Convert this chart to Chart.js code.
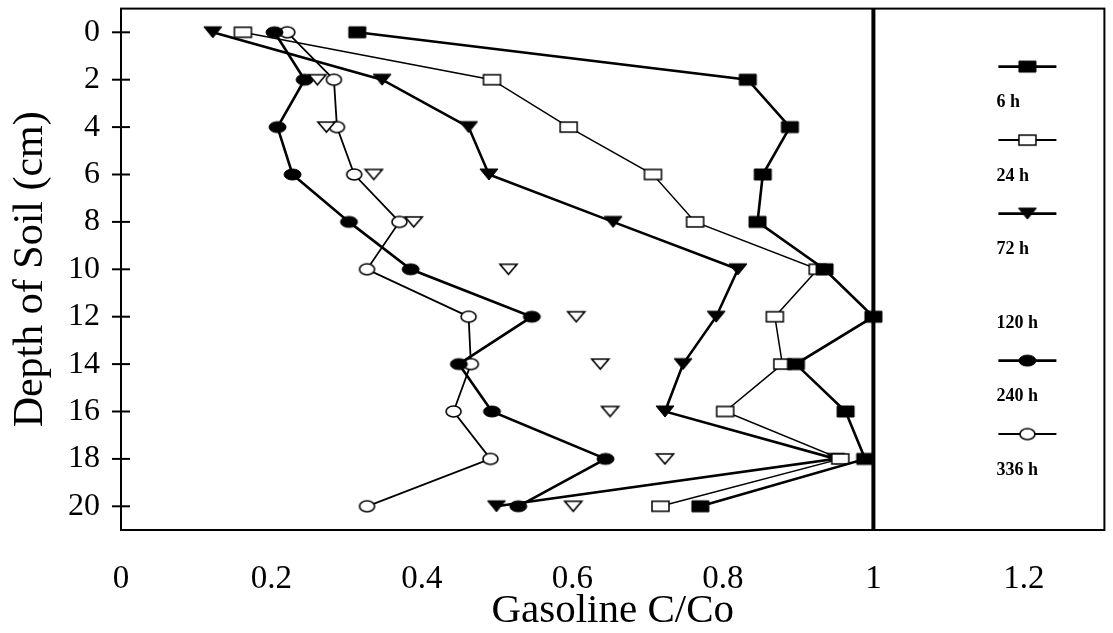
<!DOCTYPE html>
<html>
<head>
<meta charset="utf-8">
<title>Gasoline C/Co vs depth</title>
<script src="https://cdn.jsdelivr.net/npm/chart.js@4.4.1/dist/chart.umd.min.js"></script>
<style>
    html, body { margin: 0; padding: 0; background: #fff; }
    #wrap { width: 1113px; height: 633px; }
</style>
</head>
<body>
<div id="wrap"><canvas id="depthChart" width="1113" height="633"></canvas></div>
<script>
// Soil depth (cm) for each sampling row
const depths = [0, 2, 4, 6, 8, 10, 12, 14, 16, 18, 20];

// Relative gasoline concentration C/Co at each depth, per elapsed time
const conc6h   = [0.314, 0.833, 0.889, 0.853, 0.846, 0.935, 1.000, 0.897, 0.963, 0.989, 0.770];
const conc24h  = [0.162, 0.493, 0.595, 0.707, 0.763, 0.926, 0.869, 0.879, 0.803, 0.956, 0.717];
const conc72h  = [0.122, 0.347, 0.462, 0.489, 0.654, 0.820, 0.791, 0.747, 0.723, 0.950, 0.499];
const conc120h = [null,  0.261, 0.273, 0.336, 0.389, 0.515, 0.605, 0.637, 0.650, 0.723, 0.601];
const conc240h = [0.204, 0.244, 0.208, 0.228, 0.303, 0.385, 0.546, 0.449, 0.493, 0.644, 0.528];
const conc336h = [0.221, 0.283, 0.287, 0.310, 0.370, 0.327, 0.462, 0.465, 0.442, 0.491, 0.327];

const seriesNames = ['6 h', '24 h', '72 h', '120 h', '240 h', '336 h'];

const xTickValues = [0, 0.2, 0.4, 0.6, 0.8, 1, 1.2];
const yTickValues = depths;
const fullConc = 1;

const SERIF = '"Liberation Serif", "DejaVu Serif", serif';


// Small marker bitmaps used as point styles
function makeMarker(shape, filled, w, h, lineW) {
    const pad = 2;
    const c = document.createElement('canvas');
    c.width = w + pad * 2;
    c.height = h + pad * 2;
    const g = c.getContext('2d');
    g.translate(pad, pad);
    g.lineWidth = lineW;
    g.strokeStyle = '#000';
    g.fillStyle = filled ? '#000' : '#fff';
    g.beginPath();
    if (shape === 'rect') {
        g.rect(0, 0, w, h);
    } else if (shape === 'tri') {
        g.moveTo(0, 0);
        g.lineTo(w, 0);
        g.lineTo(w / 2, h);
        g.closePath();
    } else {
        g.ellipse(w / 2, h / 2, w / 2, h / 2, 0, 0, Math.PI * 2);
    }
    g.fill();
    g.stroke();
    return c;
}

const markers = [
    makeMarker('rect', true, 17, 11, 1),
    makeMarker('rect', false, 17, 10, 1.5),
    makeMarker('tri', true, 18, 11, 1),
    makeMarker('tri', false, 17, 10, 1.6),
    makeMarker('ellipse', true, 17, 11, 1),
    makeMarker('ellipse', false, 15, 11, 1.6)
];

function toPoints(values) {
    const pts = [];
    values.forEach((v, i) => {
        if (v !== null) pts.push({ x: v, y: depths[i] });
    });
    return pts;
}

const allSeries = [conc6h, conc24h, conc72h, conc120h, conc240h, conc336h];
const lineWidths = [2.6, 1.5, 2.6, 0, 2.6, 1.8];

const datasets = allSeries.map((values, i) => ({
    label: seriesNames[i],
    data: toPoints(values),
    showLine: lineWidths[i] > 0,
    borderColor: '#000',
    backgroundColor: '#000',
    borderWidth: lineWidths[i],
    pointStyle: markers[i],
    pointRadius: 6,
    tension: 0
}));


// Box around the plot, the C/Co = 1 line and the crossing depth ticks
const framePlugin = {
    id: 'frame',
    afterDatasetsDraw(chart) {
        const { ctx, chartArea: a, scales } = chart;
        ctx.save();
        ctx.strokeStyle = '#000';
        ctx.lineWidth = 2;
        ctx.strokeRect(a.left, a.top, a.right - a.left, a.bottom - a.top);

        const xRef = scales.x.getPixelForValue(fullConc);
        ctx.lineWidth = 4;
        ctx.beginPath();
        ctx.moveTo(xRef, a.top);
        ctx.lineTo(xRef, a.bottom);
        ctx.stroke();

        ctx.lineWidth = 2;
        for (const d of yTickValues) {
            const py = scales.y.getPixelForValue(d);
            ctx.beginPath();
            ctx.moveTo(a.left - 9, py);
            ctx.lineTo(a.left + 9, py);
            ctx.stroke();
        }
        ctx.restore();
    }
};

// Stacked legend in the panel right of the reference line
const legendPlugin = {
    id: 'stackLegend',
    afterDraw(chart) {
        const { ctx, chartArea: a } = chart;
        const x0 = a.right - 106;
        const x1 = a.right - 48;
        ctx.save();
        ctx.fillStyle = '#000';
        ctx.strokeStyle = '#000';
        ctx.font = 'bold 18px ' + SERIF;
        ctx.textAlign = 'left';
        ctx.textBaseline = 'middle';
        chart.data.datasets.forEach((ds, i) => {
            const sy = a.top + 58 + i * 73.5;
            if (ds.showLine) {
                ctx.lineWidth = Math.max(ds.borderWidth, 2);
                ctx.beginPath();
                ctx.moveTo(x0, sy);
                ctx.lineTo(x1, sy);
                ctx.stroke();
                const m = ds.pointStyle;
                ctx.drawImage(m, (x0 + x1) / 2 - m.width / 2, sy - m.height / 2);
            }
            ctx.fillText(ds.label, x0 - 2, sy + 36);
        });
        ctx.restore();
    }
};

// Tick labels never sit on the plot edges, so no extra edge padding is needed
function noEdgePadding(scale) {
    scale.paddingTop = 0;
    scale.paddingBottom = 0;
    scale.paddingLeft = 0;
    scale.paddingRight = 0;
}


const depthChart = new Chart(
    document.getElementById('depthChart').getContext('2d'),
    {
        type: 'scatter',
        data: { datasets: datasets },
        options: {
            responsive: false,
            animation: false,
            devicePixelRatio: 1,
            layout: { padding: { top: 8, right: 5, left: 0, bottom: 0 } },
            plugins: {
                legend: { display: false },
                tooltip: { enabled: false }
            },
            scales: {
                x: {
                    type: 'linear',
                    min: 0,
                    max: 1.307,
                    grid: { display: false, drawTicks: false },
                    border: { display: false },
                    afterBuildTicks: scale => {
                        scale.ticks = xTickValues.map(v => ({ value: v }));
                    },
                    afterFit: scale => {
                        scale.height = 103;
                        noEdgePadding(scale);
                    },
                    ticks: {
                        padding: 30,
                        color: '#000',
                        font: { family: SERIF, size: 33 },
                        callback: v => String(v)
                    },
                    title: {
                        display: true,
                        text: 'Gasoline C/Co',
                        color: '#000',
                        font: { family: SERIF, size: 41 },
                        padding: { top: 0, bottom: -3 }
                    }
                },
                y: {
                    type: 'linear',
                    reverse: true,
                    min: -1,
                    max: 21,
                    grid: { display: false, drawTicks: false },
                    border: { display: false },
                    afterBuildTicks: scale => {
                        scale.ticks = yTickValues.map(v => ({ value: v }));
                    },
                    afterFit: scale => {
                        scale.width = 121;
                        noEdgePadding(scale);
                    },
                    ticks: {
                        padding: 21,
                        color: '#000',
                        font: { family: SERIF, size: 32 },
                        callback: v => String(v)
                    },
                    title: {
                        display: true,
                        text: 'Depth of Soil (cm)',
                        color: '#000',
                        font: { family: SERIF, size: 42 },
                        padding: { top: 6, bottom: 0 }
                    }
                }
            }
        },
        plugins: [framePlugin, legendPlugin]
    }
);
</script>
</body>
</html>
